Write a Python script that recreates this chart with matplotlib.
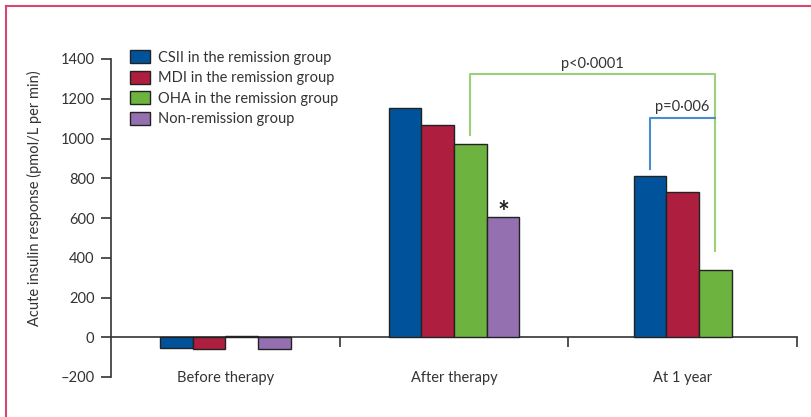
import matplotlib
matplotlib.use("Agg")
import matplotlib.pyplot as plt
from matplotlib.lines import Line2D
import numpy as np

plt.rcParams['font.family'] = ['Lato', 'DejaVu Sans']

# data
groups = ["Before therapy", "After therapy", "At 1 year"]
series = ["CSII in the remission group", "MDI in the remission group",
          "OHA in the remission group", "Non-remission group"]
csii = [-55, 1155, 811]
mdi = [-57, 1066, 732]
oha = [8, 972, 336]
nonrem = [-57, 604, None]
colors = ["#00539b", "#ae1f3f", "#6db33f", "#9570b1"]

# significance brackets
p_outer = "p<0\u00b70001"
p_inner = "p=0\u00b7006"
outer_left, outer_top, outer_right = 1017, 1323, 435
inner_left, inner_top = 849, 1103

fig = plt.figure(figsize=(8.11, 4.17), dpi=100)
ax = fig.add_axes([111/811, 1-377/417, 686/811, 318/417])

w = 0.143
x = np.arange(len(groups))
vals = [csii, mdi, oha, nonrem]
for gi in range(len(groups)):
    present = [s for s in range(4) if vals[s][gi] is not None]
    n = len(present)
    for k, s in enumerate(present):
        xo = gi + (k - (n - 1) / 2) * w
        ax.bar(xo, vals[s][gi], width=w, color=colors[s], edgecolor="#222222",
               linewidth=1, label=series[s] if gi == 0 else None, zorder=3)

# brackets
gl = 1 + 0.5 * w
gr = 2 + 1 * w
bl = 2 - 1 * w
ax.plot([gl, gl, gr, gr], [outer_left, outer_top, outer_top, outer_right],
        color="#9fcf7a", lw=1.5, zorder=2)
ax.plot([bl, bl, gr], [inner_left, inner_top, inner_top],
        color="#4a8ccf", lw=1.5, zorder=2)
ax.text((gl + gr) / 2, outer_top + 18, p_outer, ha="center", va="bottom",
        fontsize=10.5, color="#333333")
ax.text((bl + gr) / 2, inner_top + 18, p_inner, ha="center", va="bottom",
        fontsize=10.5, color="#333333")
ax.text(1 + 1.5 * w, nonrem[1] - 45, "*", ha="center", va="bottom",
        fontsize=20, fontweight="bold", color="#222222")

ax.set_xlim(-0.5, 2.5)
ax.set_ylim(-200, 1400)
ax.set_yticks(range(-200, 1401, 200))
ax.set_yticklabels(["\u2013200"] + [str(v) for v in range(0, 1401, 200)])
ax.set_xticks([0.5, 1.5, 2.5])
ax.set_xticklabels([])
ax.set_xticks(x, minor=True)
ax.set_xticklabels(groups, minor=True)
ax.tick_params(axis="x", which="major", length=7, width=1.2, color="#333333")
ax.tick_params(axis="x", which="minor", length=0, pad=24, labelsize=10.5,
               labelcolor="#333333")
ax.tick_params(axis="y", length=7, width=1.2, color="#333333", pad=5,
               labelsize=10.5, labelcolor="#333333")

for s in ["top", "right"]:
    ax.spines[s].set_visible(False)
ax.spines["bottom"].set_position(("data", 0))
for s in ["left", "bottom"]:
    ax.spines[s].set_linewidth(1.2)
    ax.spines[s].set_color("#333333")

ax.set_ylabel("Acute insulin response (pmol/L per min)", fontsize=10.5,
              color="#333333")
ax.yaxis.set_label_coords(-0.1, 0.5625)

ax.legend(loc="upper left", bbox_to_anchor=(19/686, 1 + 9/318), frameon=False,
          fontsize=10.5, borderpad=0, borderaxespad=0, handlelength=1.4,
          handleheight=1.0, handletextpad=0.55, labelspacing=0.42,
          labelcolor="#333333")

# pink frame
fig.add_artist(Line2D([6/811, 6/811], [0, 1 - 6/417], color="#d9466f", lw=1.5))
fig.add_artist(Line2D([6/811, 1], [1 - 6/417, 1 - 6/417], color="#d9466f", lw=1.5))

fig.savefig("out.png", dpi=100)
